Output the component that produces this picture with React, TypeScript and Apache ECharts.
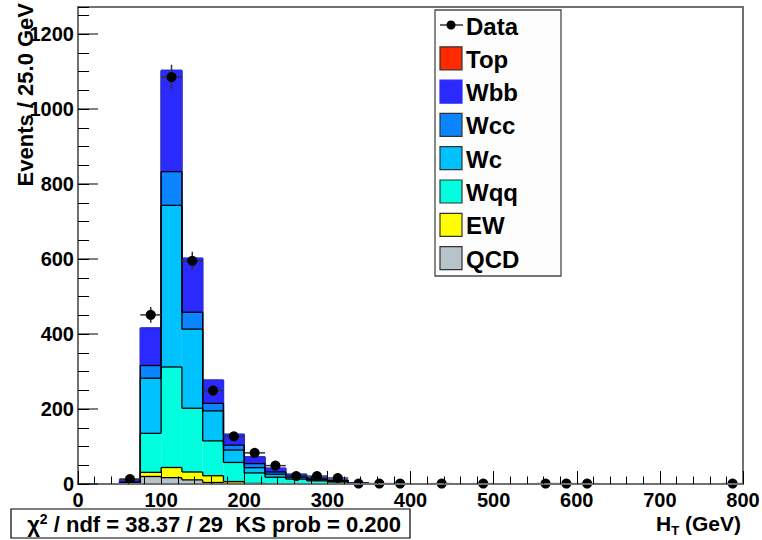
import React, { useEffect, useRef } from "react";
import * as echarts from "echarts";

// ---- data ----
const BIN_W = 25;
const binLo = [50, 75, 100, 125, 150, 175, 200, 225, 250, 275, 300, 325, 350, 375, 400];
const QCD = [0, 20, 17, 11, 4, 1.5, 0.5, 0, 0, 0, 0, 0, 0, 0, 0];
const EW = [0, 11, 27, 21, 18, 5, 1, 1, 1, 0.5, 0.5, 0, 0, 0, 0];
const Wqq = [1, 104, 268, 170, 93, 51, 28, 17, 12, 8, 5, 1, 0, 0, 0];
const Wc = [2, 147, 431, 211, 80, 33, 14, 8, 5, 3, 2, 0.5, 0, 0, 0];
const Wcc = [2, 34, 90, 45, 20, 13, 11, 6, 3, 2, 1.5, 0.5, 0, 0, 0];
const Wbb = [7, 100, 270, 144, 62, 29, 18, 10, 5, 3.5, 2, 1, 0, 0, 1];
const Top = [0, 0, 0, 0, 0, 0, 0, 0, 0, 0, 0, 0, 0, 0, 0];

const dataLo = [50, 75, 100, 125, 150, 175, 200, 225, 250, 275, 300, 325, 350, 375, 425, 475, 550, 575, 600, 775];
const dataVal = [13, 451, 1085, 595, 249, 127, 83, 49, 21, 21, 16, 1, 1, 1, 1, 1, 1, 1, 1, 1];

const stackNames = ["QCD", "EW", "Wqq", "Wc", "Wcc", "Wbb", "Top"];
const stackValues = [QCD, EW, Wqq, Wc, Wcc, Wbb, Top];
const stackColors = ["#b6c3ca", "#ffff00", "#00ffdf", "#00c2ff", "#0a84ff", "#2a2aff", "#ff2a00"];
const stackLines = ["#000", "#000", "#000", "#000", "#000", "#2a2aff", "#333"];

const legendNames = ["Data", "Top", "Wbb", "Wcc", "Wc", "Wqq", "EW", "QCD"];

const yMajor = [0, 200, 400, 600, 800, 1000, 1200];
const X_MIN = 0, X_MAX = 800, Y_MIN = 0, Y_MAX = 1272;

const statText = "38.37 / 29  KS prob = 0.200";

const FONT = '"Liberation Sans", Arial, Helvetica, sans-serif';

function buildOption() {
  const cum: number[][] = [];
  stackValues.forEach((arr, k) => {
    cum.push(arr.map((v, i) => (k > 0 ? cum[k - 1][i] : 0) + v));
  });

  const stackSeries = stackValues.map((arr, k) => {
    const top = cum[k];
    const base = k > 0 ? cum[k - 1] : binLo.map(() => 0);
    const color = stackColors[k];
    const lineColor = stackLines[k];
    return {
      type: "custom",
      name: stackNames[k],
      coordinateSystem: "cartesian2d",
      z: 2,
      clip: true,
      encode: { x: [0, 1], y: [2, 3] },
      data: binLo.map((lo, i) => [lo, lo + BIN_W, base[i], top[i], i > 0 ? top[i - 1] : 0, i === binLo.length - 1 ? 1 : 0]),
      renderItem: (params: any, api: any) => {
        const lo = api.value(0), hi = api.value(1), b = api.value(2), t = api.value(3), pt = api.value(4), last = api.value(5);
        const p1 = api.coord([lo, t]);
        const p2 = api.coord([hi, b]);
        const children: any[] = [];
        if (t > b) {
          children.push({
            type: "rect",
            shape: { x: p1[0], y: p1[1], width: p2[0] - p1[0], height: p2[1] - p1[1] },
            style: { fill: color },
            z2: 0,
          });
        }
        const ls = { stroke: lineColor, lineWidth: 1.3 };
        const lz = 20 - k;
        if (t > 0) {
          children.push({ type: "line", shape: { x1: p1[0], y1: p1[1], x2: p2[0], y2: p1[1] }, style: ls, z2: lz });
        }
        if (pt !== t) {
          const q = api.coord([lo, pt]);
          children.push({ type: "line", shape: { x1: p1[0], y1: q[1], x2: p1[0], y2: p1[1] }, style: ls, z2: lz });
        }
        if (last && t > 0) {
          const z0 = api.coord([hi, 0]);
          children.push({ type: "line", shape: { x1: p2[0], y1: p1[1], x2: p2[0], y2: z0[1] }, style: ls, z2: lz });
        }
        return { type: "group", children };
      },
    };
  });

  const dataSeries = {
    type: "custom",
    name: "Data",
    coordinateSystem: "cartesian2d",
    z: 5,
    clip: false,
    encode: { x: [0, 1], y: 2 },
    data: dataLo.map((lo, i) => [lo, lo + BIN_W, dataVal[i]]),
    renderItem: (params: any, api: any) => {
      const lo = api.value(0), hi = api.value(1), v = api.value(2);
      const mid = (lo + hi) / 2;
      const err = Math.sqrt(v);
      const c = api.coord([mid, v]);
      const l = api.coord([lo, v]);
      const r = api.coord([hi, v]);
      const u = api.coord([mid, v + err]);
      const d = api.coord([mid, Math.max(v - err, 0)]);
      const ls = { stroke: "#333", lineWidth: 1.5 };
      return {
        type: "group",
        children: [
          { type: "line", shape: { x1: l[0], y1: l[1], x2: r[0], y2: r[1] }, style: ls },
          { type: "line", shape: { x1: u[0], y1: u[1], x2: d[0], y2: d[1] }, style: ls },
          { type: "circle", shape: { cx: c[0], cy: c[1], r: 5 }, style: { fill: "#000" } },
        ],
      };
    },
  };

  const majorTickSeries = {
    type: "custom",
    name: "yticks",
    coordinateSystem: "cartesian2d",
    z: 11,
    clip: false,
    encode: { x: 0, y: 1 },
    data: yMajor.map((v) => [X_MIN, v]),
    renderItem: (params: any, api: any) => {
      const p = api.coord([api.value(0), api.value(1)]);
      return { type: "line", shape: { x1: p[0], y1: p[1], x2: p[0] + 20, y2: p[1] }, style: { stroke: "#000", lineWidth: 1 } };
    },
  };

  const legX = 435, legY = 10, legW = 126, legH = 266;
  const rowY0 = 25, rowDy = 33.3;
  const legendChildren: any[] = [
    { type: "rect", shape: { x: legX, y: legY, width: legW, height: legH }, style: { fill: "#fdfdfd", stroke: "#4a4a4a", lineWidth: 1.3 } },
  ];
  legendNames.forEach((name, i) => {
    const cy = rowY0 + i * rowDy;
    if (name === "Data") {
      legendChildren.push({ type: "line", shape: { x1: 440, y1: cy, x2: 463, y2: cy }, style: { stroke: "#333", lineWidth: 1.5 } });
      legendChildren.push({ type: "circle", shape: { cx: 451, cy, r: 4.5 }, style: { fill: "#000" } });
    } else {
      const k = stackNames.indexOf(name);
      legendChildren.push({
        type: "rect",
        shape: { x: 440, y: cy - 11.5, width: 22, height: 23 },
        style: { fill: stackColors[k], stroke: name === "Wbb" ? stackColors[k] : "#333", lineWidth: 1.2 },
      });
    }
    legendChildren.push({
      type: "text",
      x: 466,
      y: cy + 1,
      style: { text: name, fill: "#000", font: `bold 24px ${FONT}`, verticalAlign: "middle", align: "left" },
    });
  });

  return {
    animation: false,
    backgroundColor: "#ffffff",
    grid: {
      left: 78,
      right: 19,
      top: 7,
      bottom: 56,
      show: true,
      borderColor: "#707070",
      borderWidth: 2,
      backgroundColor: "transparent",
      containLabel: false,
      outerBoundsMode: "none",
    },
    xAxis: {
      type: "value",
      min: X_MIN,
      max: X_MAX,
      interval: 100,
      z: 10,
      axisLine: { show: true, lineStyle: { color: "#707070", width: 2 } },
      axisTick: { show: true, inside: true, length: 13, lineStyle: { color: "#000", width: 1 } },
      minorTick: { show: true, splitNumber: 5, length: 7.5, lineStyle: { color: "#000", width: 1 } },
      axisLabel: { color: "#000", fontFamily: FONT, fontWeight: "bold", fontSize: 20, margin: 6 },
      splitLine: { show: false },
      minorSplitLine: { show: false },
    },
    yAxis: {
      type: "value",
      min: Y_MIN,
      max: Y_MAX,
      interval: 50,
      z: 10,
      axisLine: { show: true, lineStyle: { color: "#707070", width: 2 } },
      axisTick: { show: true, inside: true, length: 11, lineStyle: { color: "#000", width: 1 } },
      axisLabel: {
        color: "#000",
        fontFamily: FONT,
        fontWeight: "bold",
        fontSize: 20,
        margin: 4,
        formatter: (v: number) => (yMajor.indexOf(v) >= 0 ? String(v) : ""),
      },
      splitLine: { show: false },
    },
    graphic: [
      {
        type: "text",
        x: 25,
        y: 3,
        rotation: Math.PI / 2,
        style: { text: "Events / 25.0 GeV", fill: "#000", font: `bold 22px ${FONT}`, align: "right", verticalAlign: "middle" },
      },
      {
        type: "text",
        x: 741,
        y: 523,
        style: {
          text: "{a|H}{s|T}{a| (GeV)}",
          align: "right",
          verticalAlign: "middle",
          rich: {
            a: { font: `bold 21px ${FONT}`, fill: "#000", verticalAlign: "middle" },
            s: { font: `bold 13px ${FONT}`, fill: "#000", padding: [14, 0, 0, 0] },
          },
        },
      },
      {
        type: "rect",
        shape: { x: 11, y: 509, width: 399, height: 29 },
        style: { fill: "#fff", stroke: "#000", lineWidth: 1.2 },
      },
      {
        type: "text",
        x: 401,
        y: 524,
        style: {
          text: "{a|χ}{s|2}{a| / ndf = " + statText + "}",
          align: "right",
          verticalAlign: "middle",
          rich: {
            a: { font: `bold 22px ${FONT}`, fill: "#000" },
            s: { font: `bold 14px ${FONT}`, fill: "#000", padding: [0, 0, 10, 0] },
          },
        },
      },
      { type: "group", children: legendChildren, z: 20 },
    ],
    series: [...stackSeries, dataSeries, majorTickSeries],
  };
}

export default function App() {
  const ref = useRef<HTMLDivElement>(null);
  useEffect(() => {
    if (!ref.current) return;
    const chart = echarts.init(ref.current, undefined, { renderer: "svg" });
    chart.setOption(buildOption() as any);
    return () => chart.dispose();
  }, []);
  return (
    <div
      ref={ref}
      style={{ position: "fixed", left: 0, top: 0, width: 762, height: 540, background: "#fff" }}
    />
  );
}
